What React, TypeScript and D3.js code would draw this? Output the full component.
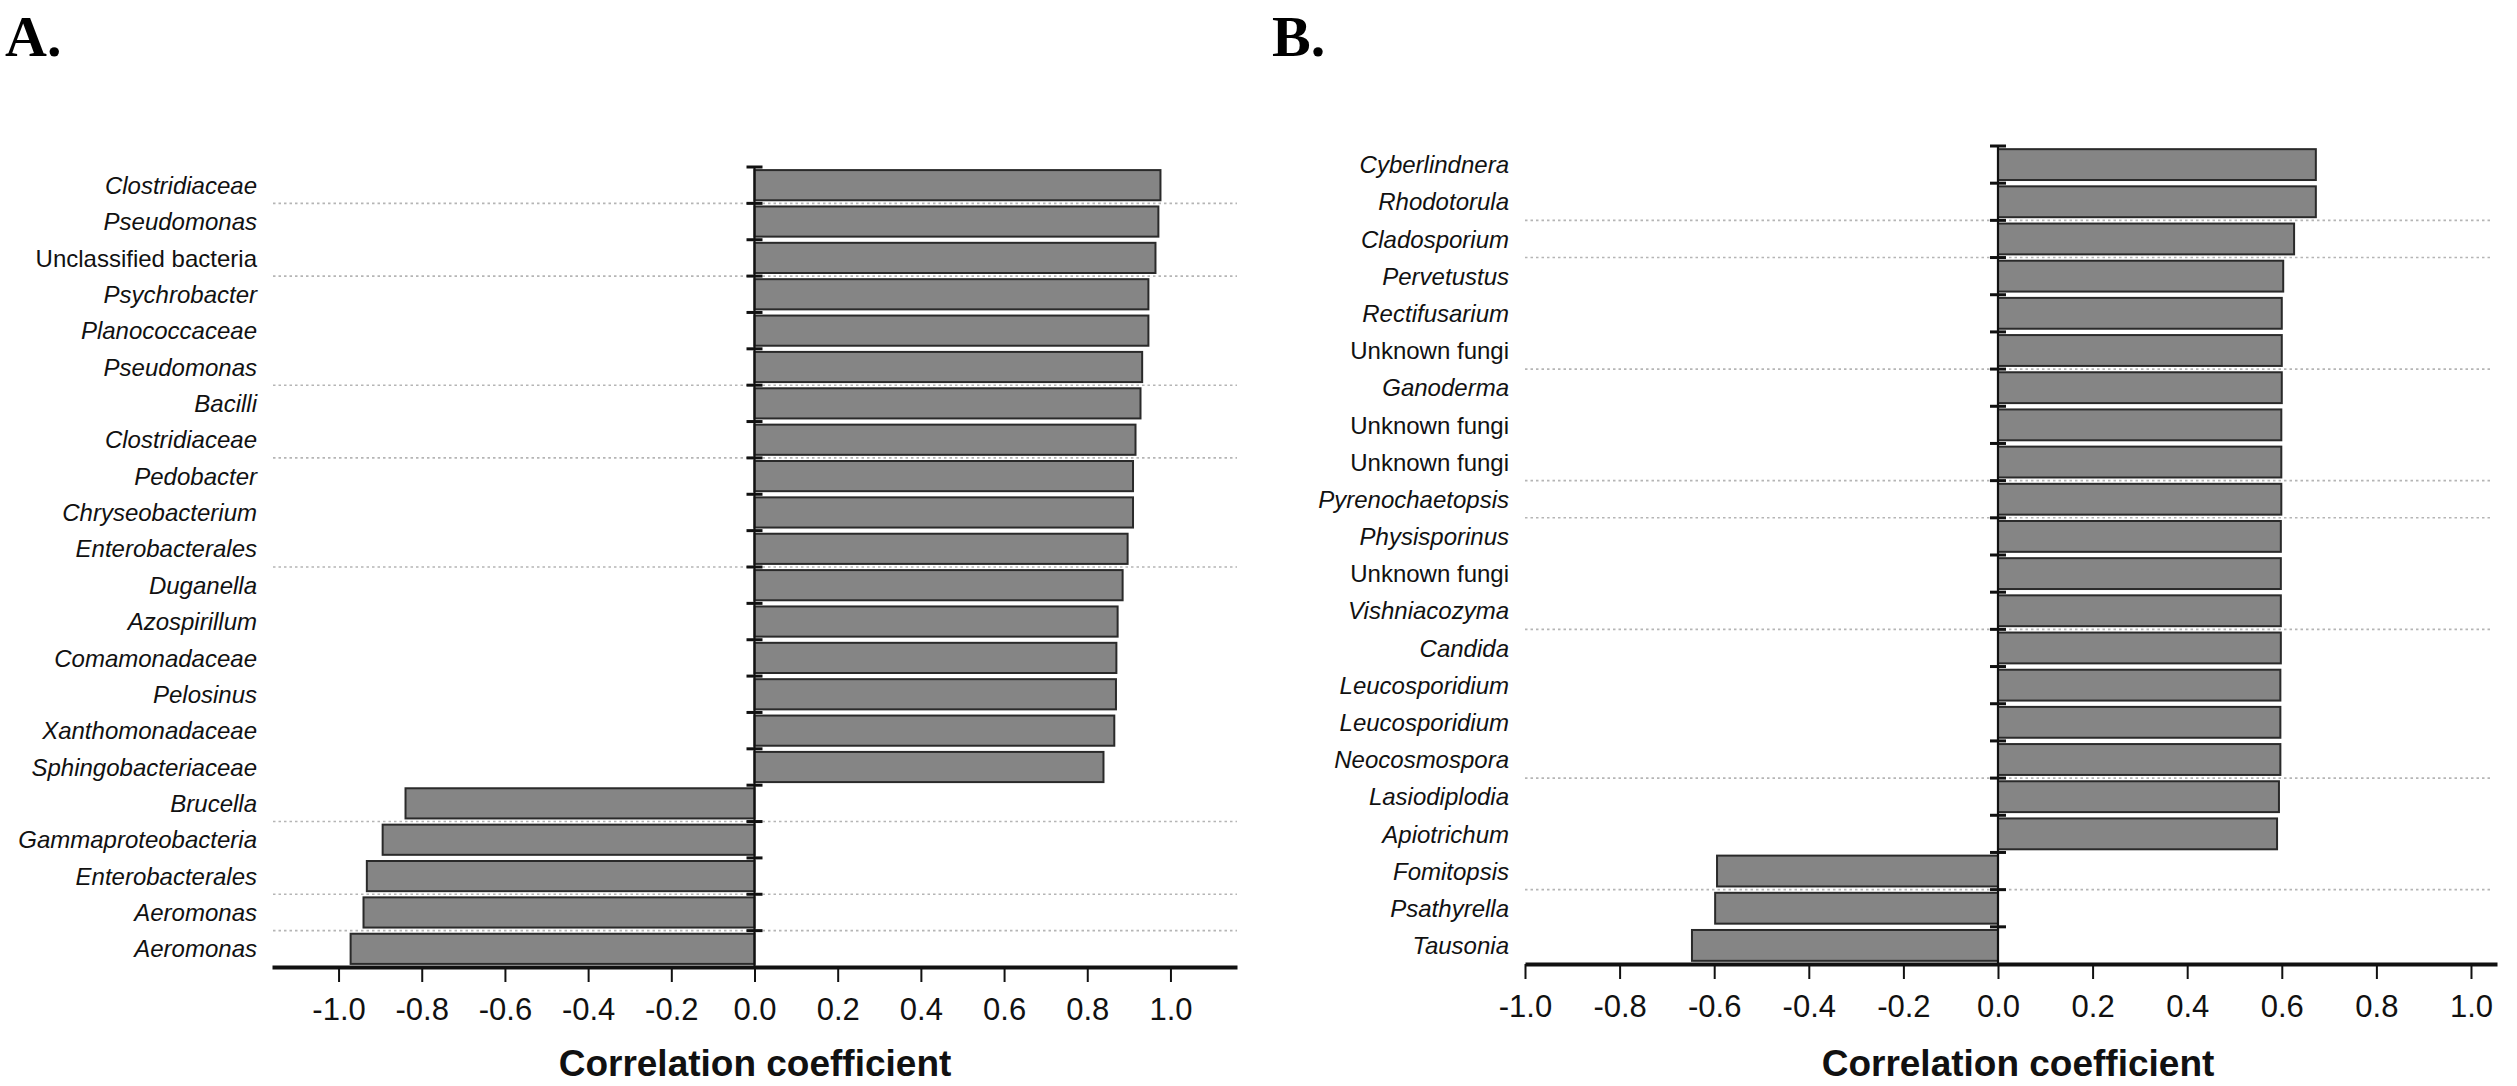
import { useEffect, useRef } from 'react';
import * as d3 from 'd3';

// Panel A: bacteria
const bacteriaTaxa = [
  'Clostridiaceae', 'Pseudomonas', 'Unclassified bacteria', 'Psychrobacter', 'Planococcaceae',
  'Pseudomonas', 'Bacilli', 'Clostridiaceae', 'Pedobacter', 'Chryseobacterium', 'Enterobacterales',
  'Duganella', 'Azospirillum', 'Comamonadaceae', 'Pelosinus', 'Xanthomonadaceae',
  'Sphingobacteriaceae', 'Brucella', 'Gammaproteobacteria', 'Enterobacterales', 'Aeromonas', 'Aeromonas',
];
const bacteriaR = [
  0.976, 0.971, 0.964, 0.947, 0.947, 0.932, 0.928, 0.916, 0.910, 0.910, 0.897,
  0.885, 0.873, 0.870, 0.869, 0.865, 0.839, -0.839, -0.894, -0.932, -0.940, -0.971,
];
// rows after which a dotted guide line is drawn
const bacteriaGuides = [1, 3, 6, 8, 11, 18, 20, 21];

// Panel B: fungi
const fungiTaxa = [
  'Cyberlindnera', 'Rhodotorula', 'Cladosporium', 'Pervetustus', 'Rectifusarium', 'Unknown fungi',
  'Ganoderma', 'Unknown fungi', 'Unknown fungi', 'Pyrenochaetopsis', 'Physisporinus', 'Unknown fungi',
  'Vishniacozyma', 'Candida', 'Leucosporidium', 'Leucosporidium', 'Neocosmospora', 'Lasiodiplodia',
  'Apiotrichum', 'Fomitopsis', 'Psathyrella', 'Tausonia',
];
const fungiR = [
  0.672, 0.672, 0.626, 0.603, 0.600, 0.600, 0.600, 0.599, 0.599, 0.599, 0.598,
  0.598, 0.598, 0.598, 0.597, 0.597, 0.597, 0.594, 0.590, -0.594, -0.598, -0.647,
];
const fungiGuides = [2, 3, 6, 9, 10, 13, 17, 20];

const tickValues = [-1.0, -0.8, -0.6, -0.4, -0.2, 0.0, 0.2, 0.4, 0.6, 0.8, 1.0];

const SANS = '"Liberation Sans", Arial, Helvetica, sans-serif';
const SERIF = '"Liberation Serif", "Times New Roman", serif';

interface PanelOpts {
  taxa: string[];
  values: number[];
  guides: number[];
  xDomain: [number, number];
  xRange: [number, number];
  yRange: [number, number];
  labelX: number;
  guideX: [number, number];
  titleX: number;
  letter: string;
  letterX: number;
}

function drawPanel(svg: d3.Selection<SVGSVGElement, unknown, null, undefined>, o: PanelOpts) {
  const g = svg.append('g');
  const x = d3.scaleLinear().domain(o.xDomain).range(o.xRange);
  const y = d3.scaleBand<number>()
    .domain(o.taxa.map((_, i) => i))
    .range(o.yRange)
    .paddingInner(0.17)
    .paddingOuter(0.085);
  const step = y.step();
  const edge = (k: number) => o.yRange[0] + k * step;
  const axisY = o.yRange[1];

  // dotted guide lines
  g.selectAll('.guide')
    .data(o.guides)
    .enter()
    .append('line')
    .attr('x1', o.guideX[0])
    .attr('x2', o.guideX[1])
    .attr('y1', d => edge(d))
    .attr('y2', d => edge(d))
    .attr('stroke', '#b5b5b5')
    .attr('stroke-width', 1.6)
    .attr('stroke-dasharray', '2.5,3');

  // bars
  g.selectAll('.bar')
    .data(o.values)
    .enter()
    .append('rect')
    .attr('x', d => x(Math.min(0, d)))
    .attr('y', (_, i) => y(i) as number)
    .attr('width', d => Math.abs(x(d) - x(0)))
    .attr('height', y.bandwidth())
    .attr('fill', '#858585')
    .attr('stroke', '#2a2a2a')
    .attr('stroke-width', 2);

  // zero line with ticks at row edges
  g.append('line')
    .attr('x1', x(0)).attr('x2', x(0))
    .attr('y1', o.yRange[0]).attr('y2', axisY)
    .attr('stroke', '#111')
    .attr('stroke-width', 2.2);
  g.selectAll('.ytick')
    .data(d3.range(o.taxa.length))
    .enter()
    .append('line')
    .attr('x1', x(0) - 8)
    .attr('x2', x(0) + 8)
    .attr('y1', d => edge(d))
    .attr('y2', d => edge(d))
    .attr('stroke', '#111')
    .attr('stroke-width', 3);

  // row labels
  g.selectAll('.label')
    .data(o.taxa)
    .enter()
    .append('text')
    .attr('x', o.labelX)
    .attr('y', (_, i) => (y(i) as number) + y.bandwidth() / 2)
    .attr('dy', '0.36em')
    .attr('text-anchor', 'end')
    .style('font-family', SANS)
    .style('font-size', '24px')
    .style('font-style', d => (/^(Unknown|Unclassified)/.test(d) ? 'normal' : 'italic'))
    .attr('fill', '#111')
    .text(d => d);

  // x axis
  const ax = g.append('g')
    .attr('transform', `translate(0,${axisY})`)
    .call(
      d3.axisBottom(x)
        .tickValues(tickValues)
        .tickSize(15)
        .tickSizeOuter(0)
        .tickPadding(16)
        .tickFormat(d => (d as number).toFixed(1))
    );
  ax.attr('font-family', SANS).attr('font-size', 31);
  ax.select('.domain').attr('stroke', '#111').attr('stroke-width', 4);
  ax.selectAll('.tick line').attr('stroke', '#111').attr('stroke-width', 2);
  ax.selectAll('.tick text').attr('fill', '#111');

  g.append('text')
    .attr('x', o.titleX)
    .attr('y', 1076)
    .attr('text-anchor', 'middle')
    .style('font-family', SANS)
    .style('font-size', '37px')
    .style('font-weight', 'bold')
    .attr('fill', '#111')
    .text('Correlation coefficient');

  g.append('text')
    .attr('x', o.letterX)
    .attr('y', 56)
    .style('font-family', SERIF)
    .style('font-size', '58px')
    .style('font-weight', 'bold')
    .attr('fill', '#000')
    .text(o.letter);
}

export default function App() {
  const svgRef = useRef<SVGSVGElement>(null);

  useEffect(() => {
    if (!svgRef.current) return;
    document.body.style.margin = '0';
    const svg = d3.select(svgRef.current);
    svg.selectAll('*').remove();

    drawPanel(svg, {
      taxa: bacteriaTaxa,
      values: bacteriaR,
      guides: bacteriaGuides,
      xDomain: [-1.16, 1.16],
      xRange: [272, 1237],
      yRange: [167, 967],
      labelX: 257,
      guideX: [273, 1237],
      titleX: 755,
      letter: 'A.',
      letterX: 5,
    });

    drawPanel(svg, {
      taxa: fungiTaxa,
      values: fungiR,
      guides: fungiGuides,
      xDomain: [-1.0, 1.055],
      xRange: [1525, 2497],
      yRange: [146, 964],
      labelX: 1509,
      guideX: [1525, 2490],
      titleX: 2018,
      letter: 'B.',
      letterX: 1272,
    });
  }, []);

  return <svg ref={svgRef} width={2517} height={1086} style={{ display: 'block', background: '#fff' }} />;
}
